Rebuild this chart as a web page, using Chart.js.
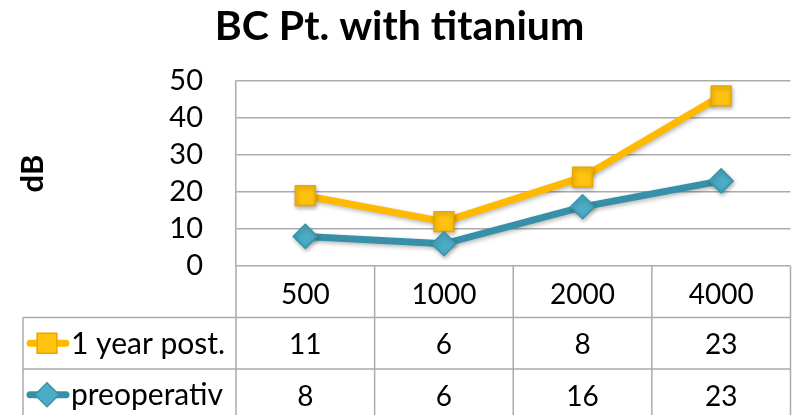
<!DOCTYPE html>
<html>
<head>
<meta charset="utf-8">
<script src="https://cdn.jsdelivr.net/npm/chart.js@4/dist/chart.umd.min.js"></script>
<style>
  body { margin: 0; background: #fff; }
  #wrap { width: 806px; height: 415px; }
</style>
</head>
<body>
<div id="wrap"><canvas id="bcChart"></canvas></div>
<script>
// values as listed in the data table (lines are stacked, so the top line shows the sum)
const frequencies = ["500", "1000", "2000", "4000"];
const oneYearPost = [11, 6, 8, 23];
const preoperativ = [8, 6, 16, 23];
const seriesNames = ["1 year post.", "preoperativ"];
const yTicks = [0, 10, 20, 30, 40, 50];

const FONT = "Lato, 'Open Sans', sans-serif";
const gridColor = "#ABABAB";
const yellow = { line: "#FFB900", fill: "#FFC20E", border: "#EAA500" };
const teal = { line: "#3890A8", fill: "#4BACC6", border: "#3893AB" };

// soft drop shadow under lines and markers
const shadowPlugin = {
    id: "shadow",
    beforeDatasetsDraw(chart) {
        const ctx = chart.ctx;
        ctx.save();
        ctx.shadowColor = "rgba(0,0,0,0.28)";
        ctx.shadowBlur = 4;
        ctx.shadowOffsetX = 1;
        ctx.shadowOffsetY = 2;
    },
    afterDatasetsDraw(chart) {
        chart.ctx.restore();
    }
};

// data table under the plot, columns taken from the x scale
const tablePlugin = {
    id: "dataTable",
    afterDraw(chart) {
        const ctx = chart.ctx;
        const x = chart.scales.x;
        const area = chart.chartArea;
        const half = (area.right - area.left) / frequencies.length / 2;
        const tableLeft = 23;
        const headTop = area.bottom;
        const rowH = 51.5;
        const rowTops = [headTop + rowH, headTop + rowH * 2];
        const bottom = chart.height + 10;

        ctx.save();
        ctx.strokeStyle = gridColor;
        ctx.lineWidth = 1.5;
        ctx.beginPath();
        frequencies.forEach((f, i) => {
            const edge = x.getPixelForValue(i) - half;
            ctx.moveTo(edge, headTop);
            ctx.lineTo(edge, bottom);
        });
        ctx.moveTo(area.right, headTop);
        ctx.lineTo(area.right, bottom);
        ctx.moveTo(tableLeft, rowTops[0]);
        ctx.lineTo(tableLeft, bottom);
        rowTops.forEach(t => {
            ctx.moveTo(tableLeft, t);
            ctx.lineTo(area.right, t);
        });
        ctx.stroke();

        ctx.fillStyle = "#000";
        ctx.font = "28px " + FONT;
        ctx.textAlign = "center";
        ctx.textBaseline = "middle";
        frequencies.forEach((f, i) => {
            ctx.fillText(f, x.getPixelForValue(i), headTop + rowH / 2 + 3);
        });

        const rows = [
            { name: seriesNames[0], values: oneYearPost, c: yellow, style: "rect", r: 14 },
            { name: seriesNames[1], values: preoperativ, c: teal, style: "rectRot", r: 12 }
        ];
        rows.forEach((row, k) => {
            const cy = rowTops[k] + rowH / 2;
            ctx.font = "28px " + FONT;
            ctx.textAlign = "center";
            row.values.forEach((v, i) => {
                ctx.fillText(String(v), x.getPixelForValue(i), cy + 2);
            });
            ctx.font = "30px " + FONT;
            ctx.textAlign = "left";
            ctx.fillText(row.name, 71, cy + 1, 160);

            ctx.save();
            ctx.strokeStyle = row.c.line;
            ctx.lineWidth = 7;
            ctx.lineCap = "round";
            ctx.beginPath();
            ctx.moveTo(30, cy);
            ctx.lineTo(66, cy);
            ctx.stroke();
            ctx.fillStyle = row.c.fill;
            ctx.strokeStyle = row.c.border;
            ctx.lineWidth = 1.5;
            Chart.helpers.drawPoint(ctx, { pointStyle: row.style, radius: row.r, borderWidth: 1.5, rotation: 0 }, 47, cy);
            ctx.restore();
        });
        ctx.restore();
    }
};

new Chart(document.getElementById("bcChart"), {
    type: "line",
    data: {
        labels: frequencies,
        datasets: [{
            label: seriesNames[1],
            data: preoperativ,
            borderColor: teal.line,
            borderWidth: 7,
            pointStyle: "rectRot",
            pointRadius: 12,
            pointBackgroundColor: teal.fill,
            pointBorderColor: teal.border,
            pointBorderWidth: 1.5,
            fill: false,
            tension: 0
        }, {
            label: seriesNames[0],
            data: oneYearPost,
            borderColor: yellow.line,
            borderWidth: 7,
            pointStyle: "rect",
            pointRadius: 14,
            pointBackgroundColor: yellow.fill,
            pointBorderColor: yellow.border,
            pointBorderWidth: 1.5,
            fill: false,
            tension: 0
        }]
    },
    options: {
        responsive: true,
        maintainAspectRatio: false,
        animation: false,
        events: [],
        layout: { padding: { left: 0, right: 7, top: 0, bottom: 149 } },
        plugins: {
            legend: { display: false },
            tooltip: { enabled: false },
            title: {
                display: true,
                text: "BC Pt. with titanium",
                color: "#000",
                font: { family: FONT, size: 41, weight: "bold" },
                padding: { top: 2, bottom: 29.8 }
            }
        },
        scales: {
            x: {
                display: false,
                offset: true
            },
            y: {
                stacked: true,
                min: yTicks[0],
                max: yTicks[yTicks.length - 1],
                afterFit(scale) { scale.width = 236; },
                afterBuildTicks(scale) { scale.ticks = yTicks.map(v => ({ value: v })); },
                grid: { color: gridColor, lineWidth: 1.5, drawTicks: false },
                border: { display: true, color: gridColor, width: 1.5 },
                ticks: {
                    color: "#000",
                    padding: 33,
                    autoSkip: false,
                    font: { family: FONT, size: 29 }
                },
                title: {
                    display: true,
                    text: "dB",
                    color: "#000",
                    font: { family: FONT, size: 31, weight: "bold" },
                    padding: { top: 14, bottom: 0 }
                }
            }
        }
    },
    plugins: [shadowPlugin, tablePlugin]
});
</script>
</body>
</html>
